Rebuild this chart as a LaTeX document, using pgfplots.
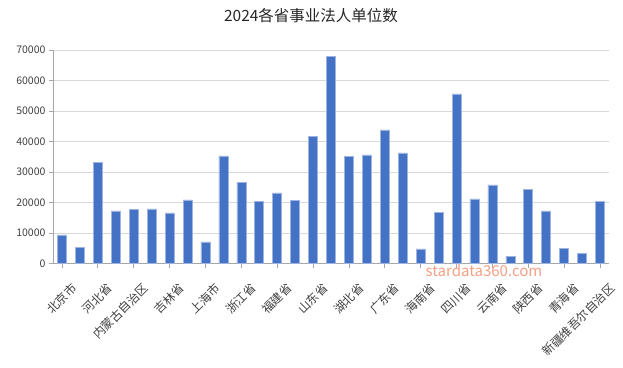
\documentclass[border=0pt]{standalone}
\usepackage{pgfplots}
\pgfplotsset{compat=1.18}
\usepackage{fontspec}
\setmainfont{Noto Sans CJK SC}
\definecolor{barblue}{HTML}{4472C4}
\definecolor{baredge}{HTML}{9DB4E0}
\definecolor{tickgray}{HTML}{404040}
\definecolor{axgray}{HTML}{A6A6A6}
\definecolor{gridgray}{HTML}{D9D9D9}
\definecolor{wm}{HTML}{F4A084}
\begin{document}
\begin{tikzpicture}[x=1pt,y=1pt]
\path[use as bounding box] (0,0) rectangle (623,367);
\node[font=\fontsize{15.5}{17}\selectfont, text=black!85] at (311,351) {2024各省事业法人单位数};
\begin{axis}[
  at={(53pt,103.5pt)}, anchor=south west,
  scale only axis, width=556pt, height=213.5pt,
  xmin=-0.5, xmax=30.5, ymin=0, ymax=70000,
  ytick={0,10000,...,70000},
  xtick={0,2,...,30},
  xticklabels={北京市,河北省,内蒙古自治区,吉林省,上海市,浙江省,福建省,山东省,湖北省,广东省,海南省,四川省,云南省,陕西省,青海省,新疆维吾尔自治区},
  scaled y ticks=false,
  /pgf/number format/assume math mode=true,
  yticklabel style={/pgf/number format/1000 sep={}, font=\fontsize{10.5}{12}\selectfont, text=tickgray},
  xticklabel style={rotate=45, anchor=north east, font=\fontsize{12}{13}\selectfont, text=tickgray, inner sep=1pt, yshift=-15pt, xshift=-3pt},
  axis lines*=left,
  axis line style={axgray, line width=0.8pt, -},
  tick style={axgray, line width=0.8pt},
  tick align=outside,
  major tick length=4pt,
  ymajorgrids, grid style={gridgray, line width=0.8pt},
  clip=false,
]
\addplot[ybar, bar width=9pt, fill=barblue, draw=baredge, line width=0.6pt] coordinates {
(0,9400) (1,5350) (2,33200) (3,17250) (4,17700) (5,17900) (6,16600) (7,20850)
(8,7100) (9,35270) (10,26650) (11,20420) (12,23150) (13,20640) (14,41700)
(15,67800) (16,35160) (17,35600) (18,43800) (19,36250) (20,4800) (21,16800)
(22,55600) (23,21200) (24,25770) (25,2300) (26,24350) (27,17250) (28,5000)
(29,3400) (30,20400)
};
\end{axis}
\node[font=\fontsize{15}{16}\selectfont, text=wm] at (484,96) {stardata360.com};
\end{tikzpicture}
\end{document}
